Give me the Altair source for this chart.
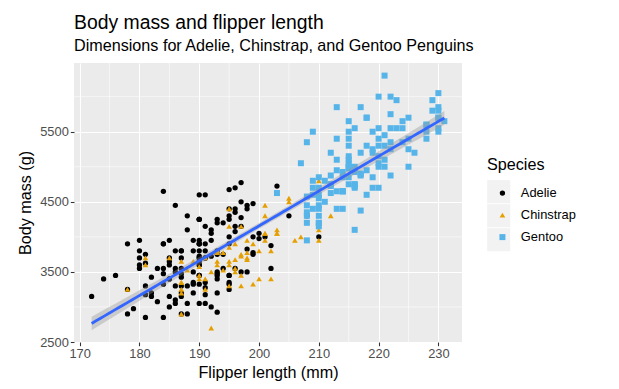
import altair as alt
import numpy as np
import pandas as pd

# ---------------- data ----------------
adelie_flipper = [181,186,195,193,190,181,195,193,190,186,180,182,191,198,185,195,197,184,194,174,
                  180,189,185,180,187,183,187,172,180,178,178,188,184,195,196,190,180,181,184,182,
                  195,186,196,185,190,182,179,190,191,186,188,190,200,187,191,186,193,181,194,185,
                  195,185,192,184,192,195,188,190,198,190,190,196,197,190,195,191,184,187,195,189,
                  196,187,193,191,194,190,189,189,190,202,205,185,186,187,208,190,196,178,192,192,
                  203,183,190,193,184,199,190,181,197,198,191,193,197,191,196,188,199,189,189,187,
                  198,176,202,186,199,191,195,191,210,190,197,193,199,187,190,191,200,185,193,193,
                  187,188,190,192,185,190,184,195,193,187,201]
adelie_mass = [3750,3800,3250,3450,3650,3625,4675,3475,4250,3300,3700,3200,3800,4400,3700,3450,4500,3325,4200,3400,
               3600,3800,3950,3800,3800,3550,3200,3150,3950,3250,3900,3300,3900,3325,4150,3950,3550,3300,4650,3150,
               3900,3100,4400,3000,4600,3425,2975,3450,4150,3500,4300,3450,4050,2900,3700,3550,3800,2850,3750,3150,
               4400,3600,4050,2850,3950,3350,4100,3050,4450,3600,3900,3550,4150,3700,4250,3700,3900,3550,4000,3200,
               4700,3800,4200,3350,3550,3800,3500,3950,3600,3550,4300,3400,4450,3300,4300,3700,4350,2900,4100,3725,
               4725,3075,4250,2925,3550,3750,3900,3175,4775,3825,4600,3200,4275,3900,4075,2900,3775,3350,3325,3150,
               3500,3450,3875,3050,4000,3275,4300,3050,4000,3325,3500,3500,4475,3425,3900,3175,3975,3400,4250,3400,
               3475,3050,3725,3000,3650,4250,3475,3450,3750,3700,4000]

chinstrap_flipper = [192,196,193,188,197,198,178,197,195,198,193,194,185,201,190,201,197,181,190,195,
                     181,191,187,193,195,197,200,200,191,205,187,201,187,203,195,199,195,210,192,205,
                     210,187,196,196,196,201,190,212,187,198,199,201,193,203,187,197,191,203,202,194,
                     206,189,195,207,202,193,210,198]
chinstrap_mass = [3500,3900,3650,3525,3725,3950,3250,3750,4150,3700,3800,3775,3700,4050,3575,4050,3300,3700,3450,4400,
                  3600,3400,2900,3800,3300,4150,3400,3800,3700,4550,3200,4300,3350,4100,3600,3900,3850,4800,2700,4500,
                  3950,3650,3550,3500,3675,4450,3400,4300,3250,3675,3325,3950,3600,4050,3350,3450,3250,4050,3800,3525,
                  3950,3650,3650,4000,3400,3775,4100,3775]

gentoo_flipper = [211,230,210,218,215,210,211,219,209,215,214,216,214,213,210,217,210,221,209,222,
                  218,215,213,215,215,215,216,215,210,220,222,209,207,230,220,220,213,219,208,208,
                  208,225,210,216,222,217,210,225,213,215,210,220,210,225,217,220,208,220,208,224,
                  208,221,214,231,219,230,214,229,220,223,216,221,221,217,216,230,209,220,215,223,
                  212,221,212,224,212,228,218,218,212,230,218,228,212,224,214,226,216,222,203,225,
                  219,228,215,228,216,215,210,219,208,209,216,229,213,230,217,230,217,222,214,215,
                  222,212,213]
gentoo_mass = [4500,5700,4450,5700,5400,4550,4800,5200,4400,5150,4650,5550,4650,5850,4200,5850,4150,6300,4800,5350,
               5700,5000,4400,5050,5000,5100,4100,5650,4600,5550,5250,4700,5050,6050,5150,5400,4950,5250,4350,5350,
               3950,5700,4300,4750,5550,4900,4200,5400,5100,5300,4850,5300,4400,5000,4900,5050,4300,5000,4450,5550,
               4200,5300,4400,5650,4700,5700,4650,5800,4700,5550,4750,5000,5100,5200,4700,5800,4600,6000,4750,5950,
               4625,5450,4725,5350,4750,5600,4600,5300,4875,5550,4950,5400,4750,5650,4850,5200,4925,4875,4625,5250,
               4850,5600,4975,5500,4725,5500,4700,5500,4575,5500,5000,5950,4650,5500,4375,5850,4875,6000,4925,4850,
               5750,5200,5400]

species_names = ["Adelie", "Chinstrap", "Gentoo"]
species_colors = ["#000000", "#E69F00", "#56B4E9"]
species_shapes = ["circle", "triangle-up", "square"]
species_sizes = [28, 36, 25]

x_ticks = [170, 180, 190, 200, 210, 220, 230]
x_minor = [175, 185, 195, 205, 215, 225]
y_ticks = [2500, 3500, 4500, 5500]
y_minor = [3000, 4000, 5000, 6000]

# ---------------- tables ----------------
frames = []
for name, fl, ms in zip(species_names,
                        [adelie_flipper, chinstrap_flipper, gentoo_flipper],
                        [adelie_mass, chinstrap_mass, gentoo_mass]):
    frames.append(pd.DataFrame({"species": name, "flipper": fl, "mass": ms}))
df = pd.concat(frames, ignore_index=True)

# linear model with 95% confidence band (as geom_smooth(method = "lm"))
x = df["flipper"].to_numpy(float)
y = df["mass"].to_numpy(float)
n = len(x)
xbar, ybar = x.mean(), y.mean()
sxx = ((x - xbar) ** 2).sum()
slope = ((x - xbar) * (y - ybar)).sum() / sxx
intercept = ybar - slope * xbar
resid = y - (intercept + slope * x)
sigma = np.sqrt((resid ** 2).sum() / (n - 2))
t_crit = 1.96697
grid = np.linspace(x.min(), x.max(), 80)
fit = intercept + slope * grid
se = sigma * np.sqrt(1.0 / n + (grid - xbar) ** 2 / sxx)
band = pd.DataFrame({"flipper": grid, "fit": fit, "lo": fit - t_crit * se, "hi": fit + t_crit * se})

# ---------------- chart ----------------
FONT = "Liberation Sans"
K = 1.1
xs = alt.Scale(domain=[169.05, 233.95], nice=False, zero=False)
ys = alt.Scale(domain=[2500, 6480], nice=False, zero=False)
x_axis = alt.Axis(values=x_ticks, format="d", title="Flipper length (mm)")
y_axis = alt.Axis(values=y_ticks, format="d", title="Body mass (g)")

minor_v = alt.Chart(pd.DataFrame({"v": x_minor})).mark_rule(color="white", strokeWidth=0.55).encode(
    x=alt.X("v:Q", scale=xs, axis=x_axis))
minor_h = alt.Chart(pd.DataFrame({"v": y_minor})).mark_rule(color="white", strokeWidth=0.55).encode(
    y=alt.Y("v:Q", scale=ys, axis=y_axis))

legend = alt.Legend(title="Species", orient="none", legendX=413, legendY=94, zindex=2,
                    titleFontSize=14.7 * K, titleFontWeight="normal", titleColor="black", titleFont=FONT,
                    titlePadding=13.5, labelFontSize=11.7 * K, labelColor="black", labelFont=FONT,
                    symbolSize=28, symbolOffset=9, labelOffset=12, rowPadding=8, padding=0,
                    symbolStrokeWidth=0)

# grey key boxes behind the legend symbols (ggplot legend.key)
key_legend = alt.Legend(title=None, orient="none", legendX=412.7, legendY=116.7, zindex=1,
                        symbolType="square", symbolSize=23.04 ** 2, symbolFillColor="#F2F2F2",
                        symbolStrokeWidth=0, symbolOpacity=1, labelOpacity=0, labelFontSize=1,
                        rowPadding=0, padding=0, symbolOffset=0)
keys = alt.Chart(df).transform_calculate(key_box="datum.species").transform_filter("false").mark_point(
    filled=True, shape="square", color="#F2F2F2").encode(
    x=alt.X("flipper:Q", scale=xs, axis=x_axis),
    y=alt.Y("mass:Q", scale=ys, axis=y_axis),
    opacity=alt.Opacity("key_box:N", scale=alt.Scale(domain=species_names, range=[1, 1, 1]), legend=key_legend),
)

points = alt.Chart(df).mark_point(filled=True, opacity=1).encode(
    x=alt.X("flipper:Q", scale=xs, axis=x_axis),
    y=alt.Y("mass:Q", scale=ys, axis=y_axis),
    color=alt.Color("species:N", scale=alt.Scale(domain=species_names, range=species_colors), legend=legend),
    shape=alt.Shape("species:N", scale=alt.Scale(domain=species_names, range=species_shapes), legend=legend),
    size=alt.Size("species:N", scale=alt.Scale(domain=species_names, range=species_sizes), legend=None),
)

ribbon = alt.Chart(band).mark_area(color="#999999", opacity=0.4).encode(
    x=alt.X("flipper:Q", scale=xs, axis=x_axis), y=alt.Y("lo:Q", scale=ys, axis=y_axis), y2="hi:Q")
fitline = alt.Chart(band).mark_line(color="#3366FF", strokeWidth=2.8).encode(
    x=alt.X("flipper:Q", scale=xs, axis=x_axis), y=alt.Y("fit:Q", scale=ys, axis=y_axis))

chart = alt.layer(minor_v, minor_h, keys, points, ribbon, fitline).properties(
    width=388, height=279,
    title=alt.Title(text="Body mass and flipper length",
                    subtitle="Dimensions for Adelie, Chinstrap, and Gentoo Penguins",
                    anchor="start", frame="group", font=FONT, subtitleFont=FONT,
                    fontSize=17.6 * K, subtitleFontSize=14.7 * K, fontWeight="normal",
                    color="black", subtitleColor="black", offset=9, subtitlePadding=4),
    padding={"left": 66, "top": 55, "right": 149, "bottom": 43},
    autosize=alt.AutoSizeParams(type="none"),
).resolve_legend(opacity="independent").configure(font=FONT).configure_view(
    fill="#EBEBEB", stroke=None
).configure_axis(
    domain=False, grid=True, gridColor="white", gridWidth=1.07,
    ticks=True, tickColor="#333333", tickWidth=1.07, tickSize=3.7,
    labelFont=FONT, labelFontSize=11.7 * K, labelColor="#4D4D4D", labelPadding=2,
    titleFont=FONT, titleFontSize=14.7 * K, titleFontWeight="normal", titleColor="black",
).configure_axisX(titlePadding=4).configure_axisY(titlePadding=6)

chart.save("out.html", embed_options={"renderer": "svg", "actions": False})
